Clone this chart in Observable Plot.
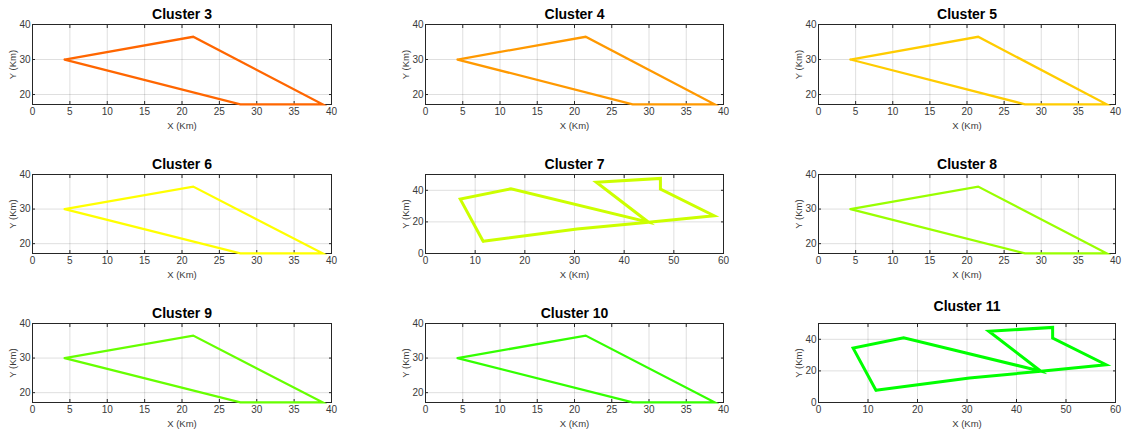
<!DOCTYPE html>
<html><head><meta charset="utf-8">
<script src="https://cdn.jsdelivr.net/npm/d3@7"></script>
<script src="https://cdn.jsdelivr.net/npm/@observablehq/plot@0.6"></script>
<style>
body{margin:0;background:#fff;}
#root{position:relative;width:1128px;height:430px;overflow:hidden;background:#fff;}
.panel{position:absolute;}
</style></head><body><div id="root"></div>
<script>
// ---- data ----
const clusterNames = ["Cluster 3","Cluster 4","Cluster 5","Cluster 6","Cluster 7","Cluster 8","Cluster 9","Cluster 10","Cluster 11"];
const clusterColors = ["#FF6600","#FF9900","#FFCC00","#FFFF00","#CCFF00","#99FF00","#66FF00","#33FF00","#00FF00"];
const clusterShape = ["tri","tri","tri","tri","poly","tri","tri","tri","poly"];

// shape A (clusters 3,4,5,6,8,9,10)
const triX = [4.3, 21.5, 38.8, 27.8, 4.3];
const triY = [30.0, 36.5, 17.2, 17.2, 30.0];
const triXTicks = [0,5,10,15,20,25,30,35,40];
const triYTicks = [20,30,40];

// shape B (clusters 7, 11)
const polyX = [11.6, 7.0, 17.2, 44.9, 34.4, 47.3, 47.3, 58.1, 44.9, 30.5, 11.6];
const polyY = [7.7, 34.4, 41.0, 19.8, 45.1, 47.5, 40.8, 23.9, 19.8, 15.5, 7.7];
const polyXTicks = [0,10,20,30,40,50,60];
const polyYTicks = [0,20,40];

// ---- layout ----
const colLeft = [0, 393, 786];
const boxW = [299, 298, 297];
const rowTop = [0, 150, 299];
const boxH = [80, 79, 79];
const font = "'Liberation Sans', Arial, sans-serif";
const root = document.getElementById("root");

clusterNames.forEach((name, i) => {
  const r = Math.floor(i / 3), c = i % 3;
  const isTri = clusterShape[i] === "tri";
  const xs = isTri ? triX : polyX, ys = isTri ? triY : polyY;
  const xt = isTri ? triXTicks : polyXTicks, yt = isTri ? triYTicks : polyYTicks;
  const xDom = isTri ? [0, 40] : [0, 60];
  const yDom = isTri ? [17.15, 40] : [0, 50];
  const pts = d3.zip(xs, ys);
  const titleGap = i === 8 ? 17 : 10;
  const mL = 32, mR = 12, mT = 24, mB = 35;
  const plot = Plot.plot({
    width: mL + boxW[c] + mR,
    height: mT + boxH[r] + mB,
    marginLeft: mL, marginRight: mR, marginTop: mT, marginBottom: mB,
    x: {domain: xDom, label: null},
    y: {domain: yDom, label: null},
    style: {fontFamily: font, fontSize: "10px", color: "#262626", background: "transparent", overflow: "visible"},
    marks: [
      Plot.gridX(xt, {stroke: "#262626", strokeOpacity: 0.15}),
      Plot.gridY(yt, {stroke: "#262626", strokeOpacity: 0.15}),
      Plot.axisX(xt, {anchor: "bottom", tickSize: -3, tickPadding: 6, label: null, fill: "#3a3a3a"}),
      Plot.axisX(xt, {anchor: "top", tickSize: -3, tickFormat: () => "", label: null}),
      Plot.axisY(yt, {anchor: "left", tickSize: -3, tickPadding: 5, label: null, fill: "#3a3a3a"}),
      Plot.axisY(yt, {anchor: "right", tickSize: -3, tickFormat: () => "", label: null}),
      Plot.frame({stroke: "#262626", strokeWidth: 1}),
      Plot.line(pts, {x: d => d[0], y: d => d[1], stroke: clusterColors[i], strokeWidth: isTri ? 2.3 : 3, strokeLinejoin: "miter", strokeMiterlimit: 10}),
      Plot.text([name], {frameAnchor: "top", dy: -titleGap, fontWeight: "bold", fontSize: 14, fill: "black", textAnchor: "middle", lineAnchor: "middle"}),
      Plot.text(["X (Km)"], {frameAnchor: "bottom", dy: 21.6, fontSize: 9.5, fill: "#3a3a3a", textAnchor: "middle", lineAnchor: "middle"}),
      Plot.text(["Y (Km)"], {frameAnchor: "left", dx: -20, rotate: -90, fontSize: 9.5, fill: "#3a3a3a", textAnchor: "middle", lineAnchor: "middle"})
    ]
  });
  const div = document.createElement("div");
  div.className = "panel";
  div.style.left = colLeft[c] + "px";
  div.style.top = rowTop[r] + "px";
  div.appendChild(plot);
  root.appendChild(div);
});
</script>
</body></html>
